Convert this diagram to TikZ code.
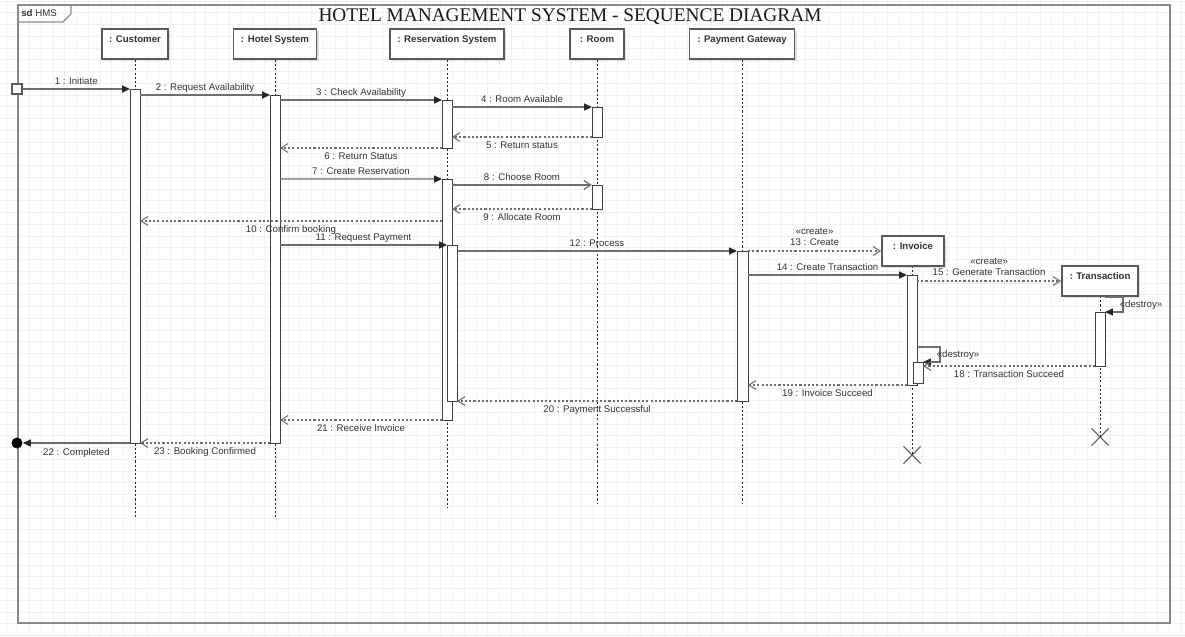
\documentclass[tikz,border=0pt]{standalone}
\usepackage{fontspec}
\setmainfont{Liberation Sans}
\newfontfamily\titlefont{Liberation Serif}
\usetikzlibrary{arrows.meta,fit,shadows,shapes.misc}

\newcommand*{\xcust}{135}
\newcommand*{\xhotel}{275}
\newcommand*{\xres}{447}
\newcommand*{\xroom}{597}
\newcommand*{\xpay}{742}
\newcommand*{\xinv}{912}
\newcommand*{\xtrans}{1100}

\definecolor{gridcol}{HTML}{F1F1F1}
\definecolor{framecol}{HTML}{8A8A8A}
\definecolor{boxcol}{HTML}{5A5A5A}
\definecolor{msgcol}{HTML}{6E6E6E}
\definecolor{txtcol}{HTML}{333333}

\begin{document}
\begin{tikzpicture}
[
	x=0.02cm, y=-0.02cm,
	obj/.style={draw=boxcol,line width=1pt,fill=white,text=txtcol,font=\bfseries\fontsize{5.5}{6.6}\selectfont,minimum height=0.6cm,text height=0.14cm,text depth=0.2cm,drop shadow={shadow xshift=1.2pt,shadow yshift=-1.2pt,opacity=0.25}},
	act/.style={draw=black!75,line width=0.45pt,fill=white,inner sep=0pt,outer sep=0pt},
	life/.style={black!85,line width=0.5pt,dash pattern=on 1.2pt off 1.2pt},
	call/.style={draw=msgcol,line width=0.7pt,-{Triangle[length=4.5pt,width=4pt,color=black!85]}},
	sendopen/.style={draw=msgcol,line width=0.7pt,-{Straight Barb[length=4pt,width=5pt]}},
	reply/.style={draw=msgcol,line width=0.6pt,dash pattern=on 1.2pt off 1.2pt,-{Straight Barb[length=4pt,width=5pt]}},
	lab/.style={font=\fontsize{5.5}{6.8}\selectfont,text=txtcol,inner sep=1pt,text height=4pt,text depth=1pt},
	stereo/.style={font=\fontsize{5.5}{6.8}\selectfont,text=txtcol,inner sep=1pt,align=center},
	destroy/.style={cross out,draw=boxcol,line width=0.6pt,minimum size=0.32cm,inner sep=0pt}
]

	\useasboundingbox (0,0) rectangle (1185,636);

	% grid
	\foreach \gx in {6,17.75,...,1185}
		\draw[gridcol,line width=0.5pt] (\gx,0) -- (\gx,636);
	\foreach \gy in {1,12.75,...,636}
		\draw[gridcol,line width=0.5pt] (0,\gy) -- (1185,\gy);

	% frame
	\draw[framecol,line width=1.1pt] (18,5) rectangle (1170,623);
	\draw[framecol,line width=0.8pt] (18,22) -- (63,22) -- (71,14) -- (71,5);
	\node[font=\fontsize{5.5}{6.6}\selectfont,text=txtcol,anchor=west,inner sep=0pt] (sd) at (21,13) {\textbf{sd} HMS};
	\node[font=\titlefont\fontsize{11}{13}\selectfont,text=black!90,inner sep=0pt] (title) at (570,17) {HOTEL MANAGEMENT SYSTEM - SEQUENCE DIAGRAM};

	% objects
	\node[obj,minimum width=1.32cm] (cust) at (\xcust,44) {: Customer};
	\node[obj,minimum width=1.66cm] (hotel) at (\xhotel,44) {: Hotel System};
	\node[obj,minimum width=2.28cm] (res) at (\xres,44) {: Reservation System};
	\node[obj,minimum width=1.08cm] (room) at (\xroom,44) {: Room};
	\node[obj,minimum width=2.1cm] (pay) at (\xpay,44) {: Payment Gateway};

	% lifelines
	\coordinate (custend) at (\xcust,517);
	\coordinate (hotelend) at (\xhotel,517);
	\coordinate (resend) at (\xres,508);
	\coordinate (roomend) at (\xroom,503);
	\coordinate (payend) at (\xpay,503);
	\node[destroy] (invx) at (\xinv,455) {};
	\node[destroy] (transx) at (\xtrans,437) {};
	\draw[life] (cust) -- (custend);
	\draw[life] (hotel) -- (hotelend);
	\draw[life] (res) -- (resend);
	\draw[life] (room) -- (roomend);
	\draw[life] (pay) -- (payend);
	\draw[life] (\xinv,266) -- (invx.center);
	\draw[life] (\xtrans,296) -- (transx.center);

	% created objects
	\node[obj,minimum width=1.24cm] (inv) at (913,251) {: Invoice};
	\node[obj,minimum width=1.52cm] (trans) at (\xtrans,281) {: Transaction};

	% activations
	\node[act,fit={(130,89) (140,443)}] (custact) {};
	\node[act,fit={(270,95) (280,443)}] (hotelact) {};
	\node[act,fit={(442,100) (452,148)}] (resact1) {};
	\node[act,fit={(442,179) (452,420)}] (resact2) {};
	\node[act,fit={(447,245) (457,401)}] (resact3) {};
	\node[act,fit={(592,107) (602,137)}] (roomact1) {};
	\node[act,fit={(592,185) (602,209)}] (roomact2) {};
	\node[act,fit={(737,251) (748,401)}] (payact) {};
	\node[act,fit={(907,275) (917,385)}] (invact1) {};
	\node[act,fit={(913,362) (923,383)}] (invact2) {};
	\node[act,fit={(1095,312) (1105,366)}] (transact) {};

	% found message
	\node[draw=boxcol,fill=white,line width=0.6pt,minimum size=0.2cm,inner sep=0pt] (found) at (17,89) {};
	\draw[call] (found) -- (custact.west |- found) node[lab,midway,above] {1 : Initiate};

	% booking
	\draw[call] (custact.east |- 0,95) -- (hotelact.north west) node[lab,midway,above] {2 : Request Availability};
	\draw[call] (hotelact.east |- 0,100) -- (resact1.north west) node[lab,midway,above] {3 : Check Availability};
	\draw[call] (resact1.east |- 0,107) -- (roomact1.north west) node[lab,midway,above] {4 : Room Available};
	\draw[reply] (roomact1.south west) -- (resact1.east |- 0,137) node[lab,midway,below=1.5pt] {5 : Return status};
	\draw[reply] (resact1.south west) -- (hotelact.east |- 0,148) node[lab,midway,below=1.5pt] {6 : Return Status};
	\draw[call] (hotelact.east |- 0,179) -- (resact2.north west) node[lab,midway,above] {7 : Create Reservation};
	\draw[sendopen] (resact2.east |- 0,185) -- (roomact2.north west) node[lab,midway,above] {8 : Choose Room};
	\draw[reply] (roomact2.south west) -- (resact2.east |- 0,209) node[lab,midway,below=1.5pt] {9 : Allocate Room};
	\draw[reply] (resact2.west |- 0,221) -- (custact.east |- 0,221) node[lab,midway,below=1.5pt] {10 : Confirm booking};

	% payment
	\draw[call] (hotelact.east |- 0,245) -- (resact3.north west) node[lab,midway,above] {11 : Request Payment};
	\draw[call] (resact3.east |- 0,251) -- (payact.north west) node[lab,midway,above] {12 : Process};
	\draw[reply] (payact.east |- inv.west) -- (inv.west) node[stereo,midway,above=1.5pt] {«create»\\13 : Create};
	\draw[call] (payact.east |- 0,275) -- (invact1.north west) node[lab,midway,above] {14 : Create Transaction};
	\draw[reply] (invact1.east |- trans.west) -- (trans.west) node[stereo,midway,above=1.5pt] {«create»\\15 : Generate Transaction};

	% destroy
	\draw[call] (transact.east |- 0,297) -- ++(18,0) |- (transact.north east);
	\node[lab] (transdel) at (1141,305) {«destroy»};
	\draw[call] (invact1.east |- 0,347) -- ++(23,0) |- (invact2.north east);
	\node[lab] (invdel) at (958,355) {«destroy»};

	% returns
	\draw[reply] (transact.south west) -- (invact2.east |- 0,366) node[lab,midway,below=1.5pt] {18 : Transaction Succeed};
	\draw[reply] (invact1.south west) -- (payact.east |- 0,385) node[lab,midway,below=1.5pt] {19 : Invoice Succeed};
	\draw[reply] (payact.south west) -- (resact3.east |- 0,401) node[lab,midway,below=1.5pt] {20 : Payment Successful};
	\draw[reply] (resact2.south west) -- (hotelact.east |- 0,420) node[lab,midway,below=1.5pt] {21 : Receive Invoice};
	\draw[reply] (hotelact.south west) -- (custact.south east) node[lab,midway,below=1.5pt] {23 : Booking Confirmed};

	% lost message
	\node[circle,fill=black,minimum size=0.22cm,inner sep=0pt] (lost) at (17,443) {};
	\draw[call] (custact.south west) -- (lost) node[lab,midway,below=1.5pt] {22 : Completed};

\end{tikzpicture}
\end{document}
